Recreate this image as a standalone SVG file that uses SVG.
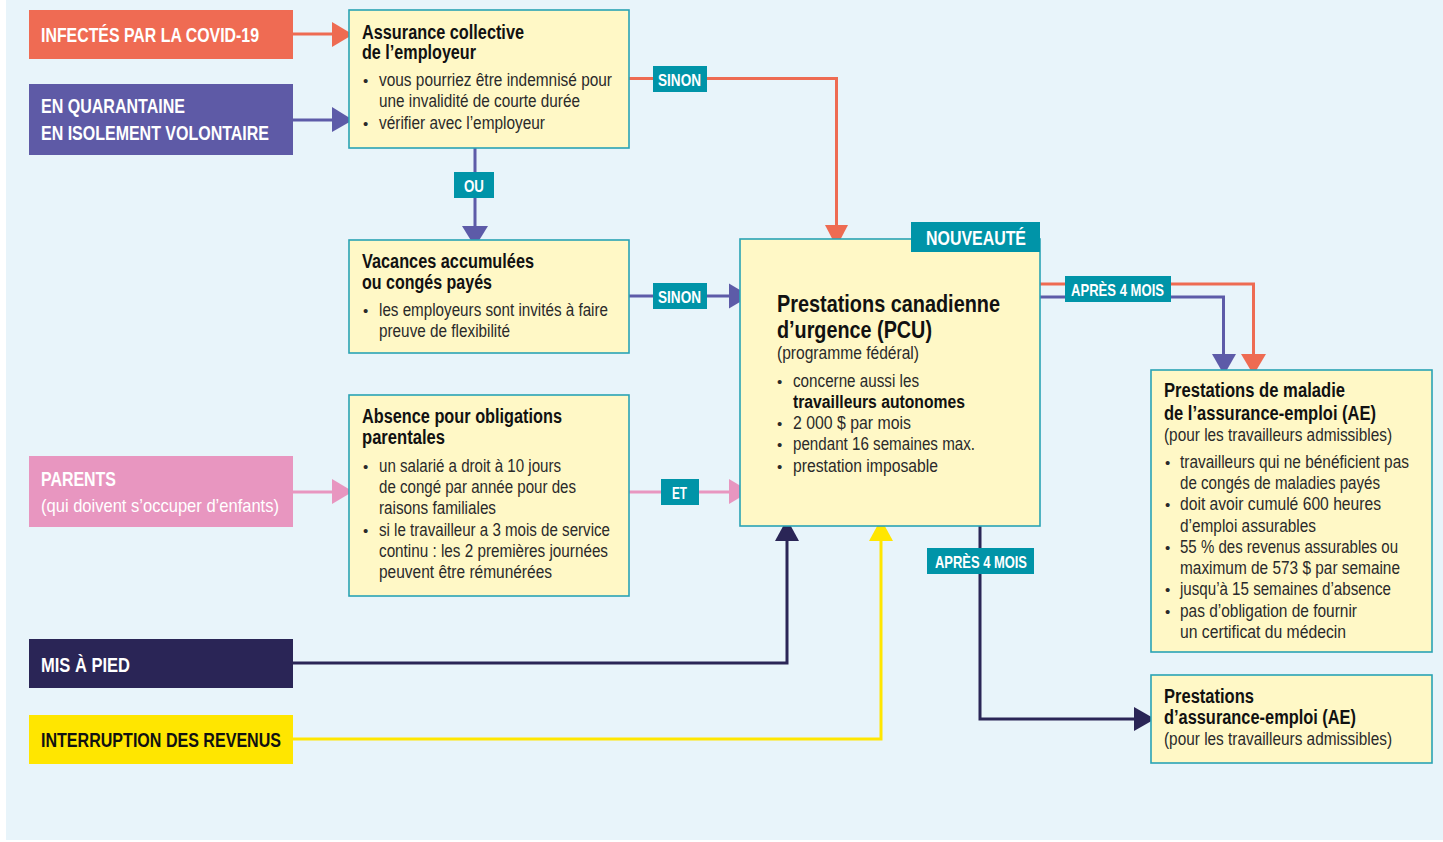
<svg xmlns="http://www.w3.org/2000/svg" width="1443" height="842" viewBox="0 0 1443 842">
<style>
text{font-family:"Liberation Sans",Arial,sans-serif}
.bg{fill:#E8F4FA}
.box{fill:#FFF8C6;stroke:#2AA3B4;stroke-width:1.6}
.src{font-size:19.5px;font-weight:bold;fill:#fff}
.srcr{font-size:18.5px;fill:#fff}
.h{font-size:19.5px;font-weight:bold;fill:#111}
.h2{font-size:24px;font-weight:bold;fill:#111}
.b{font-size:17.5px;fill:#2a2a2a}
.bb{font-size:17.5px;font-weight:bold;fill:#111}
.dot{font-size:15px;fill:#2a2a2a}
.tag{fill:#0094A8}
.tt{font-size:16.5px;font-weight:bold;fill:#fff}
.ln{fill:none;stroke-width:3}
.coral{stroke:#EE6B52}.coralf{fill:#EE6B52}
.purp{stroke:#5D5BA8}.purpf{fill:#5D5BA8}
.pink{stroke:#E896C0}.pinkf{fill:#E896C0}
.navy{stroke:#2A2556}.navyf{fill:#2A2556}
.yel{stroke:#FFE600}.yelf{fill:#FFE600}
</style>
<rect class="bg" x="6" y="0" width="1437" height="840"/>

<g id="connectors">
  <line class="ln coral" x1="293" y1="34" x2="335" y2="34"/>
  <polygon class="coralf" points="332,22 353,34.5 332,47"/>
  <line class="ln purp" x1="293" y1="120" x2="335" y2="120"/>
  <polygon class="purpf" points="332,107 353,120 332,132"/>
  <line class="ln purp" x1="475" y1="148" x2="475" y2="229"/>
  <polygon class="purpf" points="462,226 488,226 475,247"/>
  <polyline class="ln coral" points="629,78.5 836.5,78.5 836.5,228"/>
  <polygon class="coralf" points="825,225 848,225 836.5,247"/>
  <line class="ln purp" x1="629" y1="296" x2="732" y2="296"/>
  <polygon class="purpf" points="729,283.5 750,296 729,308.5"/>
  <line class="ln pink" x1="293" y1="492" x2="335" y2="492"/>
  <polygon class="pinkf" points="332,479 353,491.5 332,504"/>
  <line class="ln pink" x1="629" y1="492" x2="732" y2="492"/>
  <polygon class="pinkf" points="729,479 750,491.5 729,504"/>
  <polyline class="ln navy" points="293,663 787,663 787,538"/>
  <polygon class="navyf" points="775,541 799,541 787,519"/>
  <polyline class="ln yel" points="293,739 881,739 881,538"/>
  <polygon class="yelf" points="869,541 893,541 881,519"/>
  <polyline class="ln navy" points="980,526 980,719 1137,719"/>
  <polygon class="navyf" points="1134,707 1155,719 1134,731"/>
  <polyline class="ln coral" points="1040,284 1253.5,284 1253.5,357"/>
  <polygon class="coralf" points="1241,354 1266,354 1253.5,375"/>
  <polyline class="ln purp" points="1040,297 1223.5,297 1223.5,357"/>
  <polygon class="purpf" points="1212,354 1236,354 1224,375"/>
  <g id="labels">
    <rect class="tag" x="653" y="66" width="54" height="26"/>
    <text class="tt" x="658" y="86" textLength="43" lengthAdjust="spacingAndGlyphs">SINON</text>
    <rect class="tag" x="454" y="172" width="40" height="26"/>
    <text class="tt" x="464" y="191.5" textLength="20" lengthAdjust="spacingAndGlyphs">OU</text>
    <rect class="tag" x="653" y="283" width="54" height="26"/>
    <text class="tt" x="658" y="303" textLength="43" lengthAdjust="spacingAndGlyphs">SINON</text>
    <rect class="tag" x="661" y="479" width="38" height="26"/>
    <text class="tt" x="672" y="498.5" textLength="15" lengthAdjust="spacingAndGlyphs">ET</text>
    <rect class="tag" x="1065" y="276" width="106" height="26"/>
    <text class="tt" x="1071" y="296" textLength="93" lengthAdjust="spacingAndGlyphs">APRÈS 4 MOIS</text>
    <rect class="tag" x="927" y="548" width="107" height="26"/>
    <text class="tt" x="935" y="568" textLength="92" lengthAdjust="spacingAndGlyphs">APRÈS 4 MOIS</text>
  </g>
</g>

<g id="src-covid">
  <rect x="29" y="10" width="264" height="49" fill="#EF6B53"/>
  <text class="src" x="41" y="42" textLength="218" lengthAdjust="spacingAndGlyphs">INFECTÉS PAR LA COVID-19</text>
</g>
<g id="src-quarantaine">
  <rect x="29" y="84" width="264" height="71" fill="#5E5AA6"/>
  <text class="src" x="41" y="113" textLength="144" lengthAdjust="spacingAndGlyphs">EN QUARANTAINE</text>
  <text class="src" x="41" y="140" textLength="228" lengthAdjust="spacingAndGlyphs">EN ISOLEMENT VOLONTAIRE</text>
</g>
<g id="src-parents">
  <rect x="29" y="456" width="264" height="71" fill="#E896C0"/>
  <text class="src" x="41" y="486" textLength="75" lengthAdjust="spacingAndGlyphs">PARENTS</text>
  <text class="srcr" x="41" y="512" textLength="238" lengthAdjust="spacingAndGlyphs">(qui doivent s’occuper d’enfants)</text>
</g>
<g id="src-mispied">
  <rect x="29" y="639" width="264" height="49" fill="#2A2556"/>
  <text class="src" x="41" y="672" textLength="89" lengthAdjust="spacingAndGlyphs">MIS À PIED</text>
</g>
<g id="src-interruption">
  <rect x="29" y="715" width="264" height="49" fill="#FFE600"/>
  <text class="src" x="41" y="747" textLength="240" lengthAdjust="spacingAndGlyphs" style="fill:#111">INTERRUPTION DES REVENUS</text>
</g>

<g id="assurance-collective">
  <rect class="box" x="349" y="10" width="280" height="138"/>
  <text class="h" x="362" y="39" textLength="162" lengthAdjust="spacingAndGlyphs">Assurance collective</text>
  <text class="h" x="362" y="59" textLength="114" lengthAdjust="spacingAndGlyphs">de l’employeur</text>
  <text class="dot" x="363" y="86">•</text>
  <text class="b" x="379" y="86" textLength="233" lengthAdjust="spacingAndGlyphs">vous pourriez être indemnisé pour</text>
  <text class="b" x="379" y="107" textLength="201" lengthAdjust="spacingAndGlyphs">une invalidité de courte durée</text>
  <text class="dot" x="363" y="129">•</text>
  <text class="b" x="379" y="129" textLength="166" lengthAdjust="spacingAndGlyphs">vérifier avec l’employeur</text>
</g>

<g id="vacances">
  <rect class="box" x="349" y="240" width="280" height="113"/>
  <text class="h" x="362" y="268" textLength="172" lengthAdjust="spacingAndGlyphs">Vacances accumulées</text>
  <text class="h" x="362" y="289" textLength="130" lengthAdjust="spacingAndGlyphs">ou congés payés</text>
  <text class="dot" x="363" y="316">•</text>
  <text class="b" x="379" y="316" textLength="229" lengthAdjust="spacingAndGlyphs">les employeurs sont invités à faire</text>
  <text class="b" x="379" y="337" textLength="131" lengthAdjust="spacingAndGlyphs">preuve de flexibilité</text>
</g>

<g id="absence-parentale">
  <rect class="box" x="349" y="395" width="280" height="201"/>
  <text class="h" x="362" y="423" textLength="200" lengthAdjust="spacingAndGlyphs">Absence pour obligations</text>
  <text class="h" x="362" y="444" textLength="83" lengthAdjust="spacingAndGlyphs">parentales</text>
  <text class="dot" x="363" y="472">•</text>
  <text class="b" x="379" y="472" textLength="182" lengthAdjust="spacingAndGlyphs">un salarié a droit à 10 jours</text>
  <text class="b" x="379" y="493" textLength="197" lengthAdjust="spacingAndGlyphs">de congé par année pour des</text>
  <text class="b" x="379" y="514" textLength="117" lengthAdjust="spacingAndGlyphs">raisons familiales</text>
  <text class="dot" x="363" y="536">•</text>
  <text class="b" x="379" y="536" textLength="231" lengthAdjust="spacingAndGlyphs">si le travailleur a 3 mois de service</text>
  <text class="b" x="379" y="557" textLength="229" lengthAdjust="spacingAndGlyphs">continu : les 2 premières journées</text>
  <text class="b" x="379" y="578" textLength="173" lengthAdjust="spacingAndGlyphs">peuvent être rémunérées</text>
</g>

<g id="pcu">
  <rect class="box" x="740" y="239" width="300" height="287"/>
  <rect class="tag" x="911" y="222" width="129" height="30"/>
  <text class="tt" x="926" y="245" textLength="100" lengthAdjust="spacingAndGlyphs" style="font-size:20.5px">NOUVEAUTÉ</text>
  <text class="h2" x="777" y="312" textLength="223" lengthAdjust="spacingAndGlyphs">Prestations canadienne</text>
  <text class="h2" x="777" y="338" textLength="155" lengthAdjust="spacingAndGlyphs">d’urgence (PCU)</text>
  <text class="b" x="777" y="359" textLength="142" lengthAdjust="spacingAndGlyphs">(programme fédéral)</text>
  <text class="dot" x="777" y="387">•</text>
  <text class="b" x="793" y="387" textLength="126" lengthAdjust="spacingAndGlyphs">concerne aussi les</text>
  <text class="bb" x="793" y="408" textLength="172" lengthAdjust="spacingAndGlyphs">travailleurs autonomes</text>
  <text class="dot" x="777" y="429">•</text>
  <text class="b" x="793" y="429" textLength="118" lengthAdjust="spacingAndGlyphs">2 000 $ par mois</text>
  <text class="dot" x="777" y="450">•</text>
  <text class="b" x="793" y="450" textLength="182" lengthAdjust="spacingAndGlyphs">pendant 16 semaines max.</text>
  <text class="dot" x="777" y="472">•</text>
  <text class="b" x="793" y="472" textLength="145" lengthAdjust="spacingAndGlyphs">prestation imposable</text>
</g>

<g id="ae-maladie">
  <rect class="box" x="1151" y="370" width="281" height="282"/>
  <text class="h" x="1164" y="397" textLength="181" lengthAdjust="spacingAndGlyphs">Prestations de maladie</text>
  <text class="h" x="1164" y="420" textLength="212" lengthAdjust="spacingAndGlyphs">de l’assurance-emploi (AE)</text>
  <text class="b" x="1164" y="441" textLength="228" lengthAdjust="spacingAndGlyphs">(pour les travailleurs admissibles)</text>
  <text class="dot" x="1165" y="468">•</text>
  <text class="b" x="1180" y="468" textLength="229" lengthAdjust="spacingAndGlyphs">travailleurs qui ne bénéficient pas</text>
  <text class="b" x="1180" y="489" textLength="200" lengthAdjust="spacingAndGlyphs">de congés de maladies payés</text>
  <text class="dot" x="1165" y="510">•</text>
  <text class="b" x="1180" y="510" textLength="201" lengthAdjust="spacingAndGlyphs">doit avoir cumulé 600 heures</text>
  <text class="b" x="1180" y="532" textLength="136" lengthAdjust="spacingAndGlyphs">d’emploi assurables</text>
  <text class="dot" x="1165" y="553">•</text>
  <text class="b" x="1180" y="553" textLength="218" lengthAdjust="spacingAndGlyphs">55 % des revenus assurables ou</text>
  <text class="b" x="1180" y="574" textLength="220" lengthAdjust="spacingAndGlyphs">maximum de 573 $ par semaine</text>
  <text class="dot" x="1165" y="595">•</text>
  <text class="b" x="1180" y="595" textLength="211" lengthAdjust="spacingAndGlyphs">jusqu’à 15 semaines d’absence</text>
  <text class="dot" x="1165" y="617">•</text>
  <text class="b" x="1180" y="617" textLength="177" lengthAdjust="spacingAndGlyphs">pas d’obligation de fournir</text>
  <text class="b" x="1180" y="638" textLength="166" lengthAdjust="spacingAndGlyphs">un certificat du médecin</text>
</g>

<g id="ae">
  <rect class="box" x="1151" y="675" width="281" height="88"/>
  <text class="h" x="1164" y="703" textLength="90" lengthAdjust="spacingAndGlyphs">Prestations</text>
  <text class="h" x="1164" y="724" textLength="192" lengthAdjust="spacingAndGlyphs">d’assurance-emploi (AE)</text>
  <text class="b" x="1164" y="745" textLength="228" lengthAdjust="spacingAndGlyphs">(pour les travailleurs admissibles)</text>
</g>
</svg>
